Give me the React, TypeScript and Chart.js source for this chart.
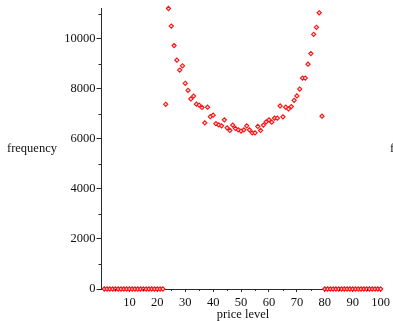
import React, { useEffect, useRef } from "react";
import { Chart, registerables } from "chart.js";

Chart.register(...registerables);

const priceLevels: number[] = [
  1, 2, 3, 4, 5, 6, 7, 8, 9, 10, 11, 12, 13, 14, 15, 16, 17, 18, 19, 20,
  21, 22, 23, 24, 25, 26, 27, 28, 29, 30, 31, 32, 33, 34, 35, 36, 37, 38, 39, 40,
  41, 42, 43, 44, 45, 46, 47, 48, 49, 50, 51, 52, 53, 54, 55, 56, 57, 58, 59, 60,
  61, 62, 63, 64, 65, 66, 67, 68, 69, 70, 71, 72, 73, 74, 75, 76, 77, 78, 79, 80,
  81, 82, 83, 84, 85, 86, 87, 88, 89, 90, 91, 92, 93, 94, 95, 96, 97, 98, 99, 100,
];

const frequencies: number[] = [
  0, 0, 0, 0, 0, 0, 0, 0, 0, 0, 0, 0, 0, 0, 0, 0, 0, 0, 0, 0,
  0, 0, 7380, 11210, 10510, 9730, 9145, 8750, 8920, 8220, 7940, 7595, 7710, 7385, 7345, 7255, 6640, 7265, 6885, 6945,
  6605, 6555, 6520, 6760, 6440, 6335, 6550, 6415, 6360, 6310, 6360, 6520, 6360, 6240, 6240, 6495, 6335, 6550, 6680, 6760,
  6665, 6825, 6825, 7315, 6880, 7265, 7195, 7290, 7540, 7715, 7990, 8430, 8430, 8985, 9410, 10180, 10460, 11040, 6905, 0,
  0, 0, 0, 0, 0, 0, 0, 0, 0, 0, 0, 0, 0, 0, 0, 0, 0, 0, 0, 0,
];

const xMajorTicks: number[] = [10, 20, 30, 40, 50, 60, 70, 80, 90, 100];
const xMinorTicks: number[] = [5, 15, 25, 35, 45, 55, 65, 75, 85, 95];
const yMajorTicks: number[] = [0, 2000, 4000, 6000, 8000, 10000];
const yMinorTicks: number[] = [1000, 3000, 5000, 7000, 9000, 11000];
const xMin = 0;
const xMax = 100;
const yMin = 0;
const yMax = 11210;

const FONT = "'Liberation Serif', 'DejaVu Serif', serif";
const AXIS = "#2a2a2a";

const labelsPlugin = {
  id: "extraLabels",
  afterDraw(chart: any) {
    const ctx = chart.ctx;
    const xs = chart.scales.x;
    const ys = chart.scales.y;
    const area = chart.chartArea;
    ctx.save();
    ctx.strokeStyle = AXIS;
    ctx.lineWidth = 1;
    ctx.beginPath();
    for (const v of xMinorTicks) {
      const px = Math.round(xs.getPixelForValue(v)) + 0.5;
      ctx.moveTo(px, area.bottom);
      ctx.lineTo(px, area.bottom + 2);
    }
    for (const v of yMinorTicks) {
      if (v > yMax) continue;
      const py = Math.round(ys.getPixelForValue(v)) + 0.5;
      ctx.moveTo(area.left - 3, py);
      ctx.lineTo(area.left, py);
    }
    ctx.stroke();
    ctx.fillStyle = "#111";
    ctx.font = "12.5px " + FONT;
    ctx.textBaseline = "middle";
    ctx.textAlign = "left";
    const midY = (area.top + area.bottom) / 2;
    ctx.fillText("frequency", 7, midY);
    ctx.fillText("frequency", 390, midY);
    ctx.textAlign = "center";
    ctx.fillText("price level", (area.left + area.right) / 2 + 2, 315);
    ctx.restore();
  },
};

export default function App() {
  const ref = useRef<HTMLCanvasElement | null>(null);
  useEffect(() => {
    document.body.style.margin = "0";
    const canvas = ref.current;
    if (!canvas) return;
    const points = priceLevels.map((x, i) => ({ x, y: frequencies[i] }));
    const chart = new Chart(canvas, {
      type: "scatter",
      data: {
        datasets: [
          {
            data: points,
            pointStyle: "rectRot",
            pointRadius: 2.1,
            pointBorderWidth: 1.1,
            borderColor: "#ff1010",
            backgroundColor: "rgba(255,225,225,1)",
            clip: false as any,
          },
        ],
      },
      options: {
        animation: false,
        responsive: false,
        maintainAspectRatio: false,
        layout: { padding: { top: 7, right: 11.3, left: 0, bottom: 0 } },
        plugins: { legend: { display: false }, tooltip: { enabled: false } },
        scales: {
          x: {
            type: "linear",
            min: xMin,
            max: xMax,
            afterBuildTicks: (s: any) => {
              s.ticks = xMajorTicks.map((v) => ({ value: v }));
            },
            afterFit: (s: any) => {
              s.height = 32;
            },
            grid: {
              display: true,
              drawOnChartArea: false,
              drawTicks: true,
              tickLength: 3,
              color: AXIS,
            },
            border: { display: true, color: AXIS, width: 1 },
            ticks: {
              color: "#111",
              font: { family: FONT, size: 12.5 },
              padding: 3,
              maxRotation: 0,
              autoSkip: false,
              callback: (v: any) => String(v),
            },
          },
          y: {
            type: "linear",
            min: yMin,
            max: yMax,
            afterBuildTicks: (s: any) => {
              s.ticks = yMajorTicks.map((v) => ({ value: v }));
            },
            afterFit: (s: any) => {
              s.width = 101.5;
            },
            grid: {
              display: true,
              drawOnChartArea: false,
              drawTicks: true,
              tickLength: 5,
              color: AXIS,
            },
            border: { display: true, color: AXIS, width: 1 },
            ticks: {
              color: "#111",
              font: { family: FONT, size: 12.5 },
              padding: 1,
              autoSkip: false,
              callback: (v: any) => String(v),
            },
          },
        },
      },
      plugins: [labelsPlugin],
    });
    return () => chart.destroy();
  }, []);
  return (
    <div style={{ position: "relative", width: 393, height: 321, background: "#fff" }}>
      <canvas ref={ref} width={393} height={321} style={{ display: "block", width: 393, height: 321 }} />
    </div>
  );
}
